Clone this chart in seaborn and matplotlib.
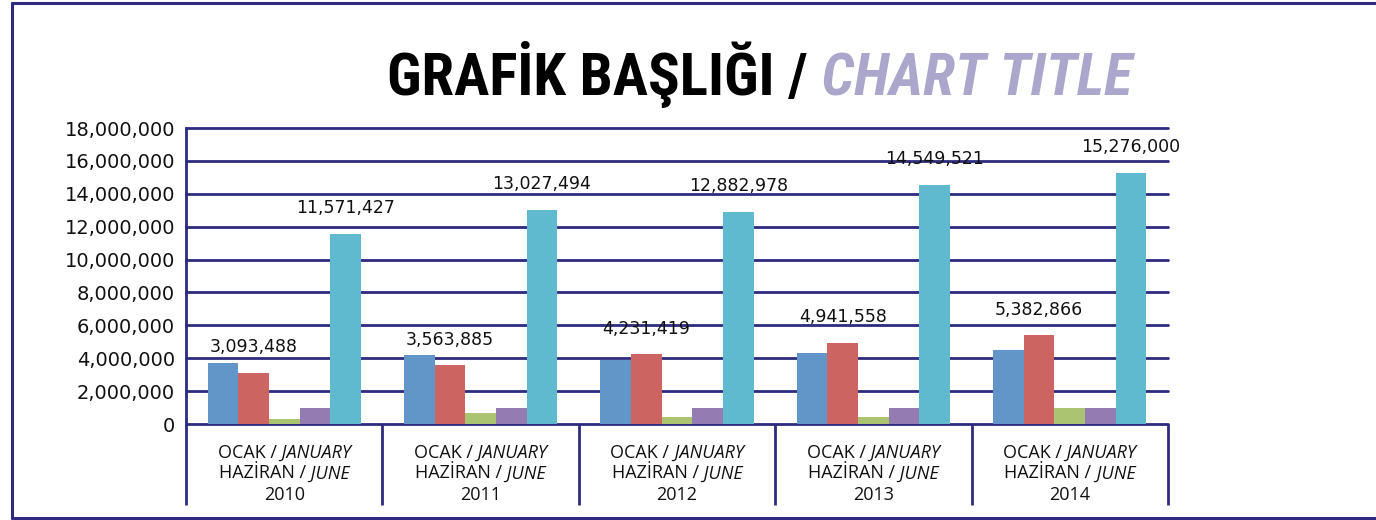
import os
import numpy as np
import pandas as pd
import matplotlib
matplotlib.use("Agg")
import matplotlib.pyplot as plt
from matplotlib import font_manager as fm
from matplotlib.lines import Line2D
from matplotlib.ticker import StrMethodFormatter
from matplotlib.transforms import IdentityTransform
import seaborn as sns

# ---------------- data ----------------
years = ["2010", "2011", "2012", "2013", "2014"]
series_names = ["Seri 1", "Seri 2", "Seri 3", "Seri 4", "Seri 5"]
seri1 = [3700000, 4180000, 3870000, 4300000, 4480000]          # blue
seri2 = [3093488, 3563885, 4231419, 4941558, 5382866]          # red (labelled)
seri3 = [300000, 680000, 440000, 440000, 980000]               # green
seri4 = [980000, 980000, 980000, 980000, 980000]               # purple
seri5 = [11571427, 13027494, 12882978, 14549521, 15276000]     # cyan (labelled)
labelled_series = ["Seri 2", "Seri 5"]
y_ticks = [0, 2000000, 4000000, 6000000, 8000000, 10000000,
           12000000, 14000000, 16000000, 18000000]
title_tr = "GRAFİK BAŞLIĞI /"
title_en = " CHART TITLE"
cat_line1 = ("OCAK /", " JANUARY")
cat_line2 = ("HAZİRAN /", " JUNE")

colors = ["#6396c8", "#cc6461", "#abc472", "#947cb2", "#5fbad0"]
navy = "#2e2a80"

df = pd.DataFrame({
    "year": np.repeat(years, 5),
    "series": series_names * len(years),
    "value": [v for i in range(len(years))
              for v in (seri1[i], seri2[i], seri3[i], seri4[i], seri5[i])],
})

# ---------------- fonts ----------------
sns.set_theme(style="white")
plt.rcParams["font.family"] = ["DejaVu Sans"]


def find_pair():
    cands = [
        ("robotocondensed-bold", "robotocondensed-bolditalic"),
        ("notosans-condensedbold", "notosans-condensedbolditalic"),
        ("opensans-condensedbold", "opensans-condensedbolditalic"),
        ("liberationsansnarrow-bold", "liberationsansnarrow-bolditalic"),
        ("dejavusanscondensed-bold", "dejavusanscondensed-boldoblique"),
    ]
    files = {os.path.splitext(os.path.basename(f.fname))[0].lower(): f.fname
             for f in fm.fontManager.ttflist}
    for b, i in cands:
        if b in files and i in files:
            return fm.FontProperties(fname=files[b]), fm.FontProperties(fname=files[i])
    return (fm.FontProperties(family="DejaVu Sans", weight="bold"),
            fm.FontProperties(family="DejaVu Sans", weight="bold", style="italic"))


fp_bold, fp_bolditalic = find_pair()

# ---------------- figure ----------------
W, H = 1376, 520
fig = plt.figure(figsize=(W / 100, H / 100), dpi=100)
fig.patch.set_facecolor("white")
ax = fig.add_axes([186 / W, 1 - 424 / H, (1168 - 186) / W, (424 - 128) / H])

sns.barplot(data=df, x="year", y="value", hue="series", hue_order=series_names,
            palette=colors, width=0.78, saturation=1, legend=False, ax=ax,
            errorbar=None, linewidth=0)

ax.set_xlim(-0.5, len(years) - 0.5)
ax.set_ylim(0, 18000000)
ax.set_xlabel("")
ax.set_ylabel("")
for s in ax.spines.values():
    s.set_visible(False)

# y axis
ax.set_yticks(y_ticks)
ax.yaxis.set_major_formatter(StrMethodFormatter("{x:,.0f}"))
ax.tick_params(axis="y", length=0, pad=8, labelsize=14, labelcolor="#111111")
ax.yaxis.grid(True, color=navy, linewidth=2.0)
ax.set_axisbelow(True)
for gl in ax.get_ygridlines():
    gl.set_clip_on(False)

ax.spines["left"].set_visible(True)
ax.spines["left"].set_color(navy)
ax.spines["left"].set_linewidth(2.0)

# x axis: category separators as long ticks
bounds = np.arange(-0.5, len(years), 1.0)
ax.set_xticks(bounds)
ax.set_xticklabels([""] * len(bounds))
ax.tick_params(axis="x", which="major", direction="out", length=58,
               width=2.0, color=navy, bottom=True)

# data labels
for cont, name in zip(ax.containers, series_names):
    if name in labelled_series:
        ax.bar_label(cont, fmt="{:,.0f}", padding=12, fontsize=12.5, color="#111111")

# ---------------- title ----------------
title_size = 40
t1 = fig.text(387 / W, 1 - 95 / H, title_tr, fontproperties=fp_bold,
              fontsize=title_size, color="black", ha="left", va="baseline")
t2 = ax.annotate(title_en, xy=(1, 0), xycoords=t1, fontproperties=fp_bolditalic,
                 fontsize=title_size, color="#aaa6cc", ha="left", va="bottom",
                 annotation_clip=False)
fig.canvas.draw()
r = fig.canvas.get_renderer()
w_tot = t1.get_window_extent(r).width + t2.get_window_extent(r).width
target = 1130 - 387
new = title_size * target / w_tot
t1.set_fontsize(new)
t2.set_fontsize(new)

# ---------------- category labels (mixed upright / italic) ----------------
fig.canvas.draw()
r = fig.canvas.get_renderer()
ident = IdentityTransform()
ax_bottom = ax.transAxes.transform((0, 0))[1]
cat_fs = 13
for i, yr in enumerate(years):
    cx = ax.transData.transform((i, 0))[0]
    lines = [[(cat_line1[0], "normal"), (cat_line1[1], "italic")],
             [(cat_line2[0], "normal"), (cat_line2[1], "italic")],
             [(yr, "normal")]]
    for k, parts in enumerate(lines):
        yb = ax_bottom - (33.5 + 21 * k)
        texts = [fig.text(0, yb, s, transform=ident, family="Open Sans", style=st,
                          fontsize=cat_fs, va="baseline", ha="left", color="#111111")
                 for s, st in parts]
        widths = [t.get_window_extent(r).width for t in texts]
        x = cx - sum(widths) / 2
        for t, w in zip(texts, widths):
            t.set_x(x)
            x += w

# ---------------- frame ----------------
lw = 2.2
fig.add_artist(Line2D([12 / W, 12 / W], [1 - 3 / H, 1 - 518 / H], color=navy, lw=lw,
                      transform=fig.transFigure))
fig.add_artist(Line2D([12 / W, 1], [1 - 3 / H, 1 - 3 / H], color=navy, lw=lw,
                      transform=fig.transFigure))
fig.add_artist(Line2D([12 / W, 1], [1 - 518 / H, 1 - 518 / H], color=navy, lw=lw,
                      transform=fig.transFigure))

fig.savefig("out.png", dpi=100, facecolor="white")
